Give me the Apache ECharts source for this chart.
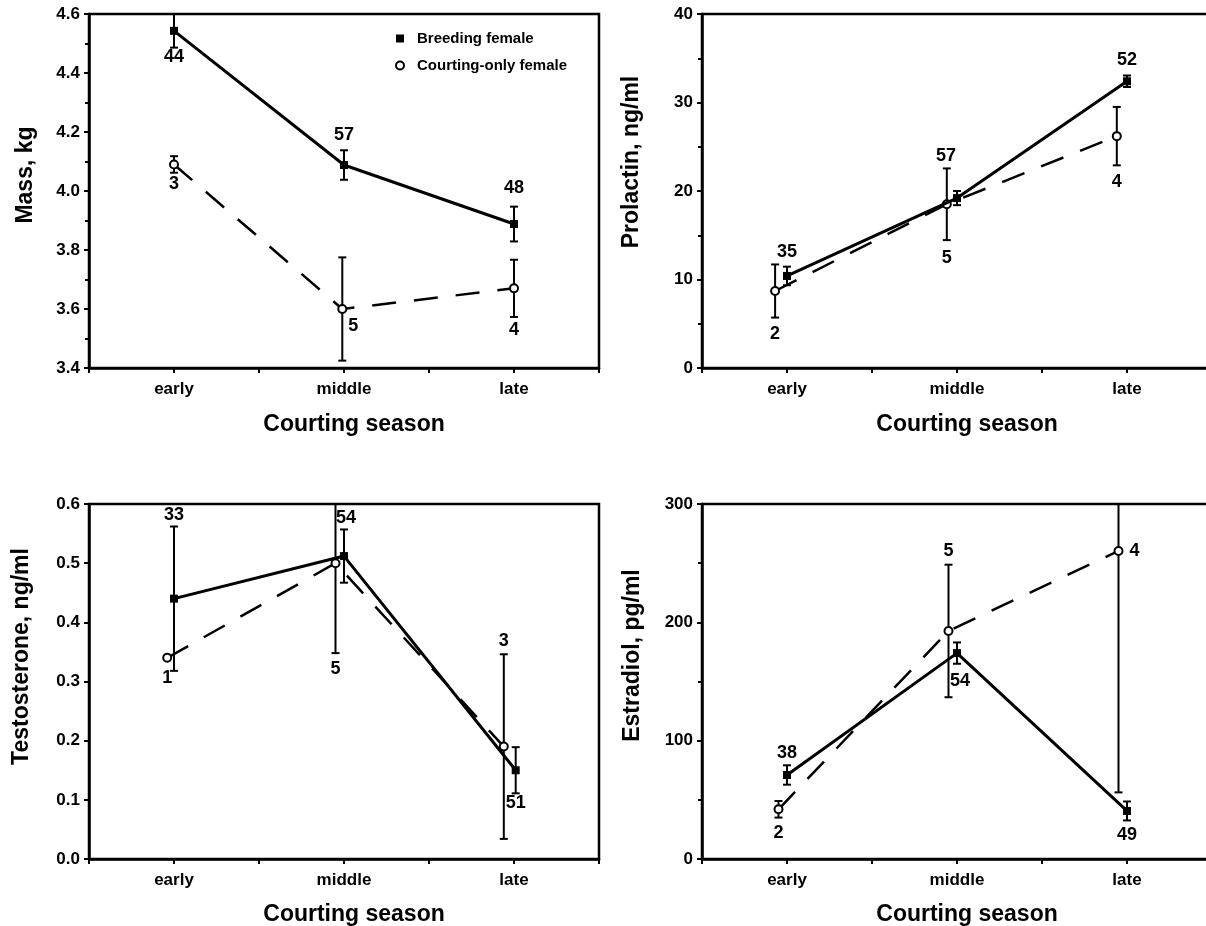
<!DOCTYPE html>
<html><head><meta charset="utf-8">
<script src="https://cdn.jsdelivr.net/npm/echarts@6/dist/echarts.min.js"></script>
<style>html,body{margin:0;padding:0;background:#fff}#c{width:1206px;height:926px}</style>
</head><body><div id="c"></div>
<script>
// ---------------- DATA ----------------
const categories = ['early', 'middle', 'late'];
const seriesNames = ['Breeding female', 'Courting-only female'];
const xAxisTitle = 'Courting season';
const yTitles = ['Mass, kg', 'Prolactin, ng/ml', 'Testosterone, ng/ml', 'Estradiol, pg/ml'];

// Mass, kg
const massBreedX = [1, 2, 3];
const massBreed = [4.543, 4.088, 3.888];
const massBreedErr = [0.057, 0.050, 0.059];
const massBreedN = [44, 57, 48];
const massCourtX = [1, 1.99, 3];
const massCourt = [4.090, 3.600, 3.670];
const massCourtErr = [0.028, 0.175, 0.097];
const massCourtN = [3, 5, 4];

// Prolactin, ng/ml
const prolBreedX = [1, 2, 3];
const prolBreed = [10.4, 19.2, 32.4];
const prolBreedErr = [1.05, 0.8, 0.65];
const prolBreedN = [35, 57, 52];
const prolCourtX = [0.93, 1.94, 2.94];
const prolCourt = [8.7, 18.5, 26.2];
const prolCourtErr = [3.0, 4.05, 3.3];
const prolCourtN = [2, 5, 4];

// Testosterone, ng/ml
const testBreedX = [1, 2, 3.01];
const testBreed = [0.44, 0.512, 0.15];
const testBreedErr = [0.122, 0.045, 0.039];
const testBreedN = [33, 54, 51];
const testCourtX = [0.96, 1.95, 2.94];
const testCourt = [0.34, 0.50, 0.19];
const testCourtErr = [null, 0.152, 0.156];
const testCourtN = [1, 5, 3];

// Estradiol, pg/ml
const estrBreedX = [1, 2, 3];
const estrBreed = [71, 174, 40.6];
const estrBreedErr = [8.2, 9, 8];
const estrBreedN = [38, 54, 49];
const estrCourtX = [0.95, 1.95, 2.95];
const estrCourt = [42, 192.7, 260.3];
const estrCourtErr = [7, 56, 204];
const estrCourtN = [2, 5, 4];

// y-axis ticks
const massTicks = {min: 3.4, max: 4.6, interval: 0.2};
const prolTicks = {min: 0, max: 40, interval: 10};
const testTicks = {min: 0, max: 0.6, interval: 0.1};
const estrTicks = {min: 0, max: 300, interval: 100};

// ---------------- STYLE / LAYOUT ----------------
const FONT = 'Liberation Sans, Arial, sans-serif';
const grids = [
  {left: 89, top: 14, width: 510, height: 354},
  {left: 702, top: 14, width: 510, height: 354},
  {left: 89, top: 504, width: 510, height: 355},
  {left: 702, top: 504, width: 510, height: 355}
];
const panels = [
  {ticks: massTicks, minor: true, dec: 1, nameGap: 52, shift: 32, xGap: 45,
   b: [massBreedX, massBreed, massBreedErr, massBreedN], c: [massCourtX, massCourt, massCourtErr, massCourtN],
   bOff: [[0, 26], [0, -30], [0, -36]], cOff: [[0, 20], [11, 17], [0, 42]]},
  {ticks: prolTicks, minor: true, dec: 0, nameGap: 59, shift: 58, xGap: 45,
   b: [prolBreedX, prolBreed, prolBreedErr, prolBreedN], c: [prolCourtX, prolCourt, prolCourtErr, prolCourtN],
   bOff: [[0, -24], [-11, -42], [0, -21]], cOff: [[0, 43], [0, 54], [0, 46]]},
  {ticks: testTicks, minor: false, dec: 1, nameGap: 56, shift: 50, xGap: 44,
   b: [testBreedX, testBreed, testBreedErr, testBreedN], c: [testCourtX, testCourt, testCourtErr, testCourtN],
   bOff: [[0, -84], [2, -38], [0, 33]], cOff: [[0, 20], [0, 106], [0, -106]]},
  {ticks: estrTicks, minor: true, dec: 0, nameGap: 58, shift: 52, xGap: 44,
   b: [estrBreedX, estrBreed, estrBreedErr, estrBreedN], c: [estrCourtX, estrCourt, estrCourtErr, estrCourtN],
   bOff: [[0, -22], [3, 28], [0, 24]], cOff: [[0, 24], [0, -80], [16, 0]]}
];

function errRender(params, api) {
  const x = api.value(0), y = api.value(1), e = api.value(2);
  const top = api.coord([x, y + e]), bot = api.coord([x, y - e]);
  const w = 4, st = {stroke: '#000', lineWidth: 2};
  return {type: 'group', children: [
    {type: 'line', shape: {x1: top[0], y1: top[1], x2: bot[0], y2: bot[1]}, style: st},
    {type: 'line', shape: {x1: top[0] - w, y1: top[1], x2: top[0] + w, y2: top[1]}, style: st},
    {type: 'line', shape: {x1: bot[0] - w, y1: bot[1], x2: bot[0] + w, y2: bot[1]}, style: st}
  ]};
}

const xAxes = [], yAxes = [], series = [];
panels.forEach((p, i) => {
  xAxes.push({
    type: 'value', gridIndex: i, min: 0.5, max: 3.5, interval: 0.5,
    name: xAxisTitle, nameLocation: 'middle', nameGap: p.xGap,
    nameTextStyle: {fontFamily: FONT, fontWeight: 'bold', fontSize: 23, color: '#000', padding: [0, 0, 0, 20]},
    axisLine: {show: true, lineStyle: {color: '#000', width: 2.5}},
    axisTick: {show: true, length: 5, lineStyle: {color: '#000', width: 2}},
    splitLine: {show: false},
    axisLabel: {margin: 13, fontFamily: FONT, fontWeight: 'bold', fontSize: 17, color: '#000',
      formatter: v => Math.abs(v - Math.round(v)) < 1e-6 && v >= 1 && v <= 3 ? categories[Math.round(v) - 1] : ''}
  });
  yAxes.push({
    type: 'value', gridIndex: i, min: p.ticks.min, max: p.ticks.max, interval: p.ticks.interval,
    name: yTitles[i], nameLocation: 'middle', nameGap: p.nameGap,
    nameTextStyle: {fontFamily: FONT, fontWeight: 'bold', fontSize: 23, color: '#000', padding: [0, 0, 0, p.shift]},
    axisLine: {show: true, lineStyle: {color: '#000', width: 2.5}},
    axisTick: {show: true, length: 5, lineStyle: {color: '#000', width: 2}},
    minorTick: {show: p.minor, splitNumber: 2, length: 4, lineStyle: {color: '#000', width: 2}},
    splitLine: {show: false},
    axisLabel: {margin: 9, fontFamily: FONT, fontWeight: 'bold', fontSize: 17, color: '#000',
      formatter: v => v.toFixed(p.dec)}
  });
  const mk = (d, off) => d[0].map((x, k) => ({
    value: [x, d[1][k]],
    label: {show: true, position: 'inside', offset: off[k], formatter: String(d[3][k]),
      fontFamily: FONT, fontWeight: 'bold', fontSize: 18, color: '#000'}
  }));
  const mkErr = d => d[0].map((x, k) => d[2][k] == null ? null : [x, d[1][k], d[2][k]]).filter(v => v);
  series.push({
    type: 'custom', name: 'errB' + i, xAxisIndex: i, yAxisIndex: i, clip: true, z: 2,
    renderItem: errRender, encode: {x: 0, y: 1}, data: mkErr(p.b)
  });
  series.push({
    type: 'custom', name: 'errC' + i, xAxisIndex: i, yAxisIndex: i, clip: true, z: 2,
    renderItem: errRender, encode: {x: 0, y: 1}, data: mkErr(p.c)
  });
  series.push({
    type: 'line', name: seriesNames[1], xAxisIndex: i, yAxisIndex: i, z: 3,
    symbol: 'emptyCircle', symbolSize: 8, showAllSymbol: true,
    lineStyle: {color: '#000', width: 2.5, type: [24, 18]},
    itemStyle: {color: '#000', borderWidth: 2},
    data: mk(p.c, p.cOff)
  });
  series.push({
    type: 'line', name: seriesNames[0], xAxisIndex: i, yAxisIndex: i, z: 4,
    symbol: 'rect', symbolSize: 8, showAllSymbol: true,
    lineStyle: {color: '#000', width: 3, type: 'solid'},
    itemStyle: {color: '#000'},
    data: mk(p.b, p.bOff)
  });
});

const chart = echarts.init(document.getElementById('c'), null, {renderer: 'canvas'});
chart.setOption({
  backgroundColor: '#fff',
  animation: false,
  grid: grids.map(g => Object.assign({show: true, borderColor: '#000', borderWidth: 2.5,
    backgroundColor: 'transparent', containLabel: false, outerBoundsMode: 'none'}, g)),
  legend: {
    left: 390, top: 26, orient: 'vertical', itemGap: 12, itemWidth: 8, itemHeight: 8,
    selectedMode: false,
    textStyle: {fontFamily: FONT, fontWeight: 'bold', fontSize: 15, color: '#000', padding: [0, 0, 0, 8]},
    data: [
      {name: seriesNames[0], icon: 'rect', itemStyle: {color: '#000', borderWidth: 0}},
      {name: seriesNames[1], icon: 'circle', itemStyle: {color: '#fff', borderColor: '#000', borderWidth: 2}}
    ]
  },
  xAxis: xAxes,
  yAxis: yAxes,
  series: series
});
</script></body></html>
